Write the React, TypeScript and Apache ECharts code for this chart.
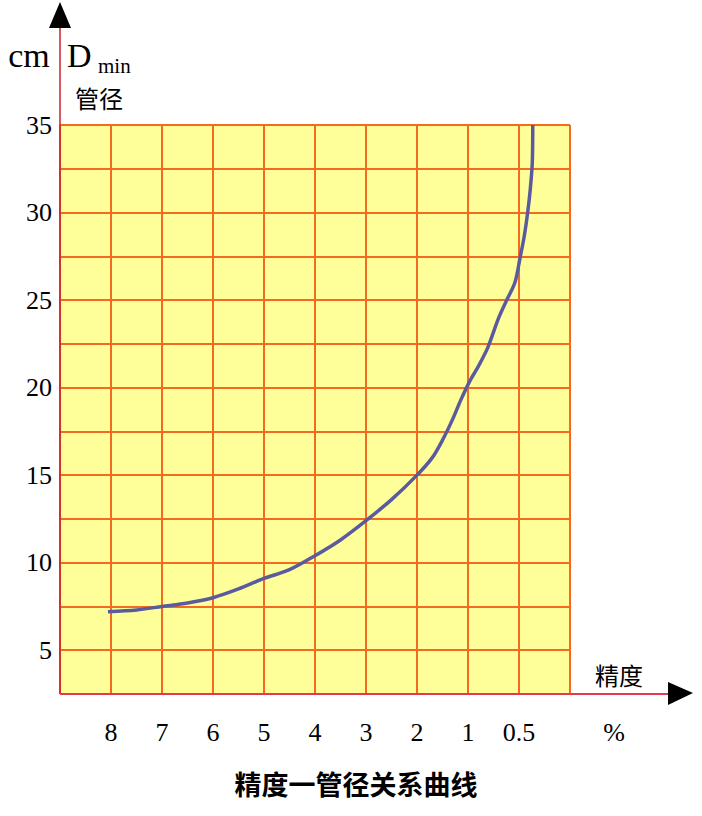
import React, { useEffect, useRef } from "react";
import * as echarts from "echarts";

// x axis: positions 0..10, labelled with precision (%) values
const xTickLabels = ["", "8", "7", "6", "5", "4", "3", "2", "1", "0.5", ""];
// y axis tick values (cm), labels only at multiples of 5
const yMin = 2.5;
const yMax = 35;
const yStep = 2.5;

// curve: precision position vs minimum pipe diameter (cm)
const curveX = [0.94, 1.5, 2.0, 2.5, 3.0, 3.5, 4.0, 4.5, 5.0, 5.5, 6.0, 6.5, 7.0, 7.3, 7.5, 7.7, 7.86, 8.04, 8.2, 8.39, 8.59, 8.76, 8.92, 9.02, 9.1, 9.17, 9.22, 9.26, 9.27];
const curveY = [7.2, 7.3, 7.5, 7.7, 8.0, 8.5, 9.1, 9.6, 10.4, 11.3, 12.4, 13.6, 15.0, 16.0, 17.0, 18.2, 19.3, 20.4, 21.2, 22.3, 23.9, 25.0, 26.0, 27.4, 28.6, 30.0, 31.3, 32.8, 35.0];

const titleText = "精度一管径关系曲线";
const serif = "'Liberation Serif', 'DejaVu Serif', serif";
const cjk = "'Noto Sans CJK SC', sans-serif";

export default function App() {
  const ref = useRef<HTMLDivElement>(null);
  useEffect(() => {
    document.body.style.margin = "0";
    const chart = echarts.init(ref.current!, null, { renderer: "svg" });
    const gridColor = "#F56A1E";
    chart.setOption({
      animation: false,
      grid: {
        left: 60,
        top: 125,
        width: 510,
        height: 569,
        show: true,
        backgroundColor: "#FFFF99",
        borderWidth: 0,
      },
      xAxis: {
        type: "value",
        min: 0,
        max: 10,
        interval: 1,
        axisLine: { show: false },
        axisTick: { show: false },
        axisLabel: {
          margin: 25,
          fontFamily: serif,
          fontSize: 26,
          color: "#000",
          formatter: (v: number) => xTickLabels[Math.round(v)] ?? "",
        },
        splitLine: { show: true, lineStyle: { color: gridColor, width: 2 } },
      },
      yAxis: {
        type: "value",
        min: yMin,
        max: yMax,
        interval: yStep,
        axisLine: { show: false },
        axisTick: { show: false },
        axisLabel: {
          margin: 8,
          fontFamily: serif,
          fontSize: 26,
          color: "#000",
          formatter: (v: number) => (Math.abs(v % 5) < 1e-9 ? String(v) : ""),
        },
        splitLine: { show: true, lineStyle: { color: gridColor, width: 2 } },
      },
      series: [
        {
          type: "line",
          data: curveX.map((x, i) => [x, curveY[i]]),
          smooth: 0.3,
          showSymbol: false,
          lineStyle: { color: "#5A5A9E", width: 3.5 },
          z: 5,
        },
      ],
      graphic: [
        { type: "line", shape: { x1: 60, y1: 24, x2: 60, y2: 694 }, style: { stroke: "#C8202A", lineWidth: 1.5 }, z: 10 },
        { type: "polygon", shape: { points: [[60, 2], [49, 28], [71, 28]] }, style: { fill: "#000" }, z: 10 },
        { type: "line", shape: { x1: 60, y1: 694, x2: 672, y2: 694 }, style: { stroke: "#E23A4E", lineWidth: 2 }, z: 10 },
        { type: "polygon", shape: { points: [[693, 693], [668, 682], [668, 705]] }, style: { fill: "#000" }, z: 10 },
        { type: "text", x: 29, y: 55, style: { text: "cm", font: `34px ${serif}`, fill: "#000", align: "center", verticalAlign: "middle" } },
        { type: "text", x: 67, y: 55, style: { text: "D", font: `34px ${serif}`, fill: "#000", align: "left", verticalAlign: "middle" } },
        { type: "text", x: 98, y: 66, style: { text: "min", font: `21px ${serif}`, fill: "#000", align: "left", verticalAlign: "middle" } },
        { type: "text", x: 99, y: 97, style: { text: "管径", font: `24px ${cjk}`, fill: "#000", align: "center", verticalAlign: "middle" } },
        { type: "text", x: 619, y: 674, style: { text: "精度", font: `24px ${cjk}`, fill: "#000", align: "center", verticalAlign: "middle" } },
        { type: "text", x: 614, y: 732, style: { text: "%", font: `26px ${serif}`, fill: "#000", align: "center", verticalAlign: "middle" } },
        { type: "text", x: 356, y: 783, style: { text: titleText, font: `bold 27px ${cjk}`, fill: "#000", align: "center", verticalAlign: "middle" } },
      ],
    });
    return () => chart.dispose();
  }, []);
  return <div ref={ref} style={{ width: 702, height: 816 }} />;
}
